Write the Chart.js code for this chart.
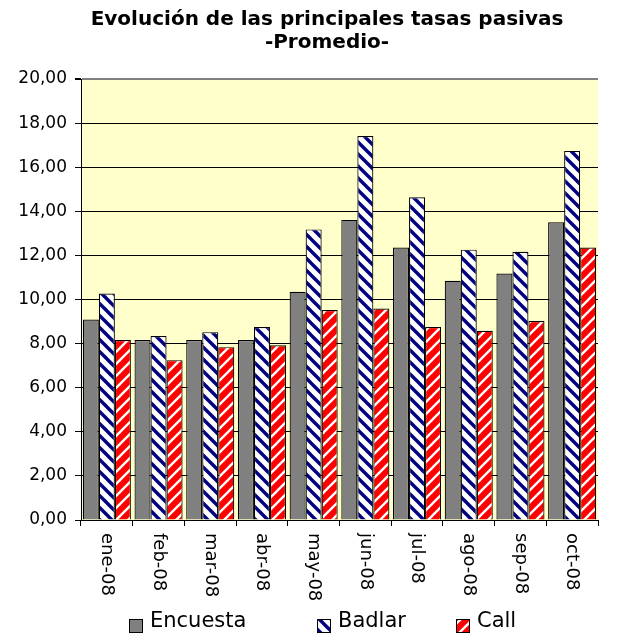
<!DOCTYPE html>
<html>
<head>
<meta charset="utf-8">
<script src="https://cdn.jsdelivr.net/npm/chart.js@4/dist/chart.umd.min.js"></script>
<style>
html,body{margin:0;padding:0;background:#fff;}
#wrap{width:622px;height:637px;position:relative;}
</style>
</head>
<body>
<div id="wrap"><canvas id="c" width="622" height="637"></canvas></div>
<script>
const categories = ['ene-08','feb-08','mar-08','abr-08','may-08','jun-08','jul-08','ago-08','sep-08','oct-08'];
const encuesta = [9.09, 8.16, 8.16, 8.16, 10.35, 13.61, 12.36, 10.85, 11.18, 13.50];
const badlar   = [10.27, 8.34, 8.52, 8.75, 13.18, 17.41, 14.64, 12.26, 12.16, 16.74];
const call     = [8.16, 7.25, 7.84, 7.92, 9.52, 9.59, 8.75, 8.58, 9.02, 12.36];
const seriesNames = ['Encuesta','Badlar','Call'];
const yTickLabels = ['0,00','2,00','4,00','6,00','8,00','10,00','12,00','14,00','16,00','18,00','20,00'];
const titleLines = ['Evolución de las principales tasas pasivas','-Promedio-'];

function stripePattern(bg, fg, dir, size, width){
  const c = document.createElement('canvas');
  c.width = size; c.height = size;
  const g = c.getContext('2d');
  g.fillStyle = bg; g.fillRect(0,0,size,size);
  g.strokeStyle = fg; g.lineWidth = width; g.lineCap = 'square';
  for (let k=-1;k<=1;k++){
    g.beginPath();
    if (dir === 'down'){ g.moveTo(k*size,0); g.lineTo(k*size+size,size); }
    else { g.moveTo(k*size,size); g.lineTo(k*size+size,0); }
    g.stroke();
  }
  return g.createPattern(c,'repeat');
}
const ctx = document.getElementById('c').getContext('2d');
const greyFill = '#808080';
const badlarFill = stripePattern('#ffffff','#000080','down',12,3.4);
const callFill = stripePattern('#ff0000','#ffffff','up',12,2.4);
const fills = [greyFill, badlarFill, callFill];

const FONT = "'DejaVu Sans', 'Liberation Sans', Arial, sans-serif";

const customPlugin = {
  id:'custom',
  beforeDraw(chart){
    const a = chart.chartArea, c = chart.ctx;
    c.save();
    c.fillStyle = '#ffffcc';
    c.fillRect(a.left, a.top, a.right-a.left, a.bottom-a.top);
    c.restore();
  },
  afterDraw(chart){
    const c = chart.ctx, xs = chart.scales.x, a = chart.chartArea;
    c.save();
    // title
    c.fillStyle = '#000';
    c.font = "bold 20px " + FONT;
    c.textAlign = 'center';
    c.textBaseline = 'middle';
    c.fillText(titleLines[0], 327, 20);
    c.fillText(titleLines[1], 327, 43);
    // x labels
    c.font = "18px " + FONT;
    c.textAlign = 'left';
    c.textBaseline = 'middle';
    categories.forEach((lab,i)=>{
      const x = xs.getPixelForValue(i);
      c.save();
      c.translate(x, a.bottom + 13);
      c.rotate(Math.PI/2);
      c.fillText(lab, 0, 0);
      c.restore();
    });
    // legend
    const legendX = [129, 317, 456];
    const legendY = 626;
    c.font = "21px " + FONT;
    c.textBaseline = 'middle';
    seriesNames.forEach((n,i)=>{
      c.fillStyle = fills[i];
      c.fillRect(legendX[i], legendY-7, 14, 14);
      c.strokeStyle = '#000'; c.lineWidth = 1;
      c.strokeRect(legendX[i]+0.5, legendY-7+0.5, 13, 13);
      c.fillStyle = '#000';
      c.fillText(n, legendX[i]+21, legendY-4);
    });
    c.restore();
  }
};

new Chart(ctx, {
  type:'bar',
  data:{
    labels: categories,
    datasets:[
      {label:seriesNames[0], data:encuesta, backgroundColor:fills[0], borderColor:'#000', borderWidth:1.2},
      {label:seriesNames[1], data:badlar, backgroundColor:fills[1], borderColor:'#000', borderWidth:1.2},
      {label:seriesNames[2], data:call, backgroundColor:fills[2], borderColor:'#000', borderWidth:1.2}
    ]
  },
  options:{
    responsive:false,
    animation:false,
    devicePixelRatio:1,
    layout:{padding:{left:0,right:24,top:79,bottom:0}},
    datasets:{bar:{barPercentage:1.0, categoryPercentage:0.93}},
    plugins:{
      legend:{display:false},
      tooltip:{enabled:false},
      title:{display:false}
    },
    scales:{
      x:{
        offset:true,
        grid:{offset:true, drawOnChartArea:false, drawTicks:true, tickLength:6, color:'#000', tickColor:'#000'},
        border:{display:true, color:'#000', width:1},
        ticks:{display:false},
        afterFit(s){ s.height = 637 - 520; }
      },
      y:{
        min:0, max:20,
        ticks:{stepSize:2, color:'#000', font:{family:FONT, size:17}, padding:8,
          callback:(v,i)=>yTickLabels[i]},
        grid:{color:(ctx)=> ctx.tick && ctx.tick.value===20 ? '#808080' : '#000', lineWidth:(ctx)=> ctx.tick && ctx.tick.value===20 ? 2 : 1, tickLength:6, tickColor:'#000'},
        border:{display:true, color:'#000', width:1},
        afterFit(s){ s.width = 81; }
      }
    }
  },
  plugins:[customPlugin]
});
</script>
</body>
</html>
